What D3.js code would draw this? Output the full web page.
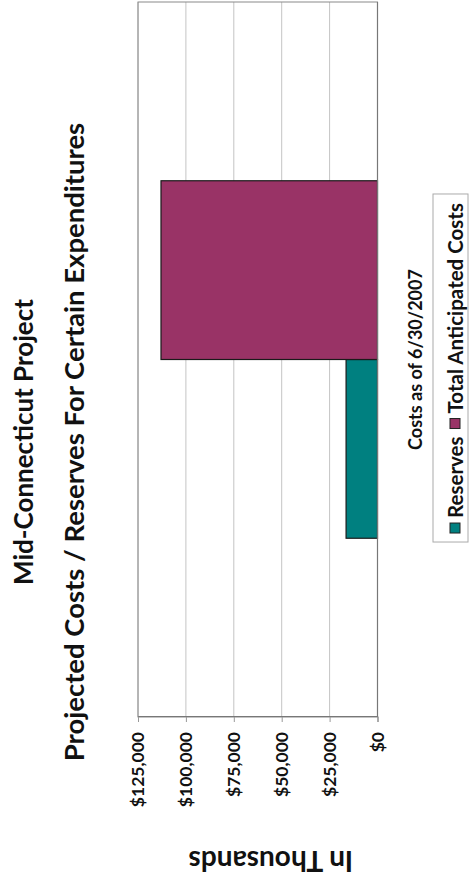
<!DOCTYPE html>
<html><head><meta charset="utf-8">
<script src="https://cdn.jsdelivr.net/npm/d3@7"></script>
<style>body{margin:0;background:#fff}svg{display:block}text{font-family:Lato,"Open Sans",sans-serif;font-weight:bold;fill:#111}</style>
</head><body>
<script>
const titleLines = ["Mid-Connecticut Project", "Projected Costs / Reserves For Certain Expenditures"];
const categories = [""];
const seriesNames = ["Reserves", "Total Anticipated Costs"];
const reserves = [16400];
const totalAnticipated = [113000];
const seriesValues = [reserves, totalAnticipated];
const seriesColors = ["#008080", "#993366"];
const tickValues = [0, 25000, 50000, 75000, 100000, 125000];
const tickLabels = ["$0", "$25,000", "$50,000", "$75,000", "$100,000", "$125,000"];
const yAxisTitle = "In Thousands";
const xAxisTitle = "Costs as of 6/30/2007";

const W = 884, H = 469; // landscape chart, rotated onto the portrait page
const svg = d3.select("body").append("svg").attr("width", H).attr("height", W);
const g = svg.append("g").attr("transform", `translate(0,${W}) rotate(-90)`);

const plot = {left: 167, right: 882, top: 138, bottom: 377.5};

const y = d3.scaleLinear().domain([0, 125000]).range([plot.bottom, plot.top]);
const x0 = d3.scaleBand().domain(categories).range([plot.left, plot.right])
  .paddingInner(1/3).paddingOuter(1/3);
const x1 = d3.scaleBand().domain(seriesNames).range([0, x0.bandwidth()]).padding(0);

// gridlines
g.append("g").selectAll("line").data(tickValues.filter(d => d > 0)).join("line")
  .attr("x1", plot.left).attr("x2", plot.right)
  .attr("y1", d => y(d)).attr("y2", d => y(d))
  .attr("stroke", "#c4c4c4").attr("stroke-width", 1);

// plot border
g.append("rect").attr("x", plot.left).attr("y", plot.top)
  .attr("width", plot.right - plot.left).attr("height", plot.bottom - plot.top)
  .attr("fill", "none").attr("stroke", "#8a8a8a").attr("stroke-width", 1);

// bars
const barData = [];
categories.forEach((c, ci) => seriesNames.forEach((s, si) =>
  barData.push({c, s, v: seriesValues[si][ci], color: seriesColors[si]})));
g.append("g").selectAll("rect").data(barData).join("rect")
  .attr("x", d => x0(d.c) + x1(d.s))
  .attr("width", x1.bandwidth())
  .attr("y", d => y(d.v))
  .attr("height", d => y(0) - y(d.v))
  .attr("fill", d => d.color)
  .attr("stroke", "#1a1a1a").attr("stroke-width", 1.2);

// category axis line
g.append("line").attr("x1", plot.left).attr("x2", plot.right)
  .attr("y1", y(0)).attr("y2", y(0)).attr("stroke", "#777").attr("stroke-width", 1.2);

// value axis
const yAxis = g.append("g").attr("transform", `translate(${plot.left},0)`)
  .call(d3.axisLeft(y).tickValues(tickValues).tickFormat((d, i) => tickLabels[i])
    .tickSize(5).tickPadding(10));
yAxis.select(".domain").attr("stroke", "#777");
yAxis.selectAll(".tick line").attr("stroke", "#999");
yAxis.selectAll(".tick text").style("font-size", "17.5px").attr("fill", "#111");

// axis titles
g.append("text").attr("transform", `translate(22,${(plot.top + plot.bottom) / 2 + 13}) rotate(-90)`)
  .attr("text-anchor", "middle").attr("dominant-baseline", "central")
  .style("font-size", "28px").text(yAxisTitle);
g.append("text").attr("x", (plot.left + plot.right) / 2).attr("y", 415)
  .attr("text-anchor", "middle").attr("dominant-baseline", "central")
  .style("font-size", "18px").text(xAxisTitle);

// title
const titleSizes = [26, 27.5];
g.append("g").selectAll("text").data(titleLines).join("text")
  .attr("x", W / 2).attr("y", (d, i) => 23 + i * 50)
  .attr("text-anchor", "middle").attr("dominant-baseline", "central")
  .style("font-size", (d, i) => titleSizes[i] + "px").text(d => d);

// legend
const leg = g.append("g");
const legBox = leg.append("rect").attr("fill", "#fff").attr("stroke", "#aaa").attr("stroke-width", 1);
let cx = 0;
const offsets = [];
const items = leg.selectAll("g.item").data(seriesNames).join("g").attr("class", "item");
items.each(function(d, i) {
  const it = d3.select(this);
  it.append("rect").attr("x", 0).attr("y", -5).attr("width", 10).attr("height", 10)
    .attr("fill", seriesColors[i]).attr("stroke", "#222").attr("stroke-width", 1);
  const t = it.append("text").attr("x", 15).attr("y", 0).attr("dominant-baseline", "central")
    .style("font-size", "20.5px").text(d);
  offsets.push(cx);
  cx += 15 + t.node().getComputedTextLength() + 8;
});
const legW = cx - 8;
const legCenter = 516, legY = 455;
items.attr("transform", (d, i) => `translate(${legCenter - legW / 2 + offsets[i]},${legY})`);
legBox.attr("x", legCenter - legW / 2 - 9).attr("y", 433)
  .attr("width", legW + 18).attr("height", 35);
</script>
</body></html>
